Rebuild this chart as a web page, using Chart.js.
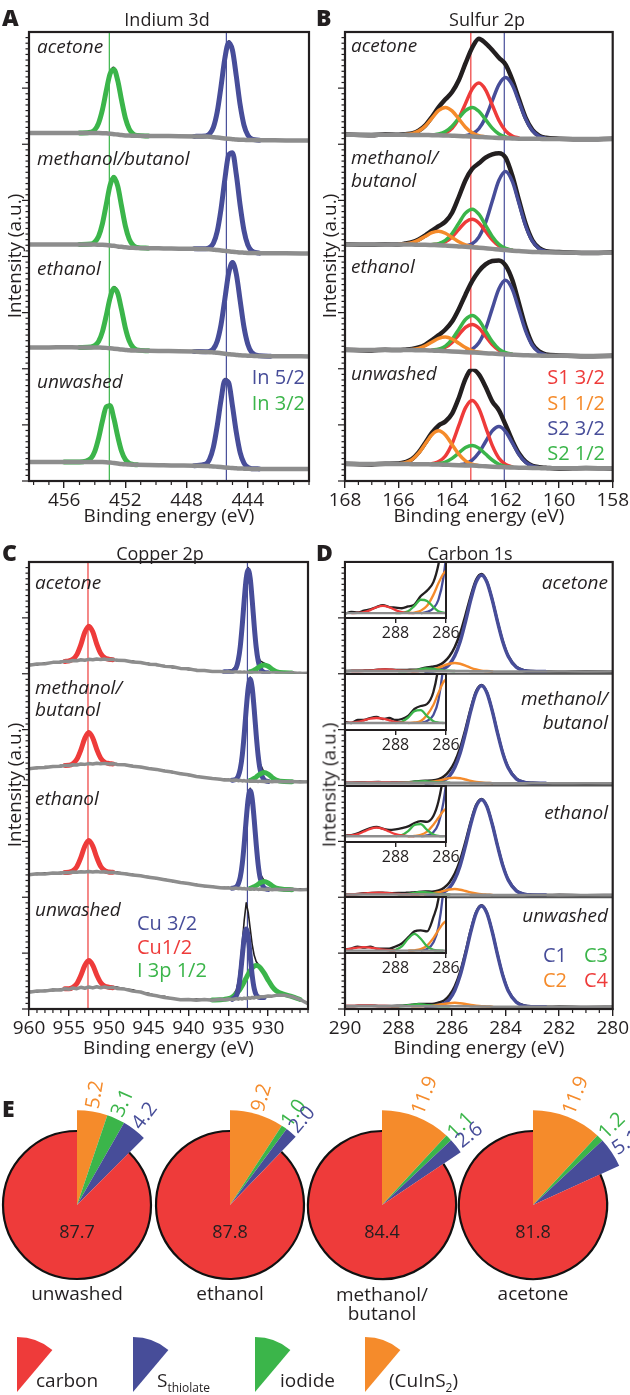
<!DOCTYPE html>
<html>
<head>
<meta charset="utf-8">
<script src="https://cdn.jsdelivr.net/npm/chart.js@4.4.1/dist/chart.umd.min.js"></script>
<style>
  body { margin: 0; background: #fff; }
  #fig { position: relative; width: 630px; height: 1395px; overflow: hidden; background: #fff;
         font-family: 'Open Sans', 'Noto Sans', sans-serif; color: #231f20; }
  #fig canvas { position: absolute; }
  .t { position: absolute; white-space: nowrap; line-height: 1; }
</style>
</head>
<body>
<div id="fig"></div>
<script>
// ---------- Indium 3d (panel A) ----------
const energyA = [458.3, 457, 456, 455, 454.25, 454, 453.75, 453.5, 453.25, 453, 452.75, 452.5, 452.25, 452, 451.75, 451.5, 451.25, 450.5, 449.5, 448.5, 447.5, 446.75, 446.5, 446.25, 446, 445.75, 445.5, 445.25, 445, 444.75, 444.5, 444.25, 444, 443.75, 443.25, 442.5, 441.5, 440];
const ticksA = [456, 452, 448, 444];

const inAceRaw = [10.3, 9.8, 10.4, 10.2, 11.0, 13.3, 19.5, 31.5, 48.5, 64.0, 68.3, 57.8, 40.0, 23.8, 14.4, 10.0, 8.6, 7.8, 7.6, 7.5, 7.6, 8.2, 10.4, 16.3, 30.0, 52.8, 78.0, 92.0, 85.0, 62.0, 36.5, 18.5, 9.6, 6.0, 4.4, 3.9, 3.2, 3.5];
const inAceBg = [10, 10, 10, 10, 10, 10, 10, 9.9, 9.7, 9.4, 9.0, 8.6, 8.2, 7.9, 7.7, 7.6, 7.5, 7.4, 7.3, 7.2, 7.0, 6.8, 6.6, 6.3, 6.0, 5.6, 5.2, 4.8, 4.5, 4.2, 4.0, 3.9, 3.8, 3.7, 3.6, 3.5, 3.4, 3.4];
const inAce32 = [10, 10.7, 12.9, 18.9, 30.8, 47.7, 62.8, 66.7, 56.7, 39.1, 23.2, 13.6, 9.3, 7.9, 7.4];
const inAce52 = [7.0, 7.4, 9.2, 15.0, 28.7, 51.4, 76.5, 90.4, 83.6, 60.6, 35.0, 17.1, 8.1, 4.7, 3.6];

const inMebRaw = [11.0, 10.4, 10.9, 10.5, 11.4, 13.5, 18.8, 30.0, 47.3, 64.8, 71.8, 63.5, 45.6, 27.8, 16.2, 10.8, 8.7, 7.9, 7.3, 7.5, 7.2, 7.6, 9.0, 13.0, 23.6, 43.6, 70.2, 91.0, 93.0, 74.3, 47.0, 24.5, 11.6, 6.2, 3.6, 3.2, 2.6, 3.0];
const inMebBg = [10.7, 10.7, 10.6, 10.7, 10.6, 10.6, 10.5, 10.4, 10.2, 9.9, 9.5, 9.0, 8.6, 8.2, 7.9, 7.7, 7.6, 7.4, 7.2, 7.0, 6.8, 6.6, 6.4, 6.1, 5.8, 5.4, 5.0, 4.6, 4.2, 3.9, 3.6, 3.4, 3.2, 3.1, 3.0, 2.9, 2.8, 2.7];
const inMeb32 = [10.7, 11.1, 13.0, 18.1, 29.3, 46.4, 63.5, 70.5, 62.6, 44.8, 27.1, 15.5, 10.1, 8.1, 7.4];
const inMeb52 = [6.8, 6.9, 7.9, 11.8, 22.3, 42.3, 68.8, 90.5, 92.5, 72.9, 45.6, 23.2, 10.3, 5.1, 3.0];

const inEthRaw = [19.3, 18.7, 19.4, 19.1, 19.8, 21.0, 25.0, 33.8, 48.2, 64.0, 73.0, 68.2, 53.2, 36.8, 25.5, 19.6, 17.2, 16.3, 16.0, 15.7, 15.8, 15.6, 16.2, 18.6, 25.3, 40.0, 63.0, 86.0, 95.8, 85.4, 61.6, 38.2, 22.8, 15.6, 12.0, 11.0, 11.4, 10.8];
const inEthBg = [19, 19, 19.1, 19, 19, 19, 18.9, 18.8, 18.6, 18.3, 17.9, 17.5, 17.1, 16.8, 16.5, 16.3, 16.2, 16.0, 15.8, 15.6, 15.3, 15.0, 14.8, 14.5, 14.2, 13.8, 13.4, 13.0, 12.6, 12.3, 12.0, 11.8, 11.6, 11.5, 11.3, 11.2, 11.1, 11.0];
const inEth32 = [19, 19.4, 20.6, 24.4, 33.1, 47.4, 63.1, 71.6, 67.2, 52.5, 36.2, 24.8, 19.0, 16.8, 16.0];
const inEth52 = [15.3, 15.2, 15.5, 17.7, 24.5, 39.2, 62.1, 85.0, 94.6, 84.3, 60.7, 37.2, 21.9, 14.7, 11.5, 11.2];

const inUnwRaw = [17.2, 16.6, 17.3, 17.5, 20.8, 26.8, 38.6, 54.2, 67.0, 68.2, 56.0, 40.2, 27.0, 19.6, 16.3, 15.2, 14.8, 14.6, 14.3, 14.1, 14.2, 15.8, 20.0, 30.8, 49.8, 73.0, 91.0, 88.5, 68.0, 44.5, 26.3, 16.8, 12.6, 11.4, 11.0, 10.4, 11.0, 10.6];
const inUnwBg = [16.9, 16.9, 17.0, 17.0, 17.0, 17.0, 17.0, 16.9, 16.7, 16.4, 16.0, 15.6, 15.2, 14.9, 14.7, 14.5, 14.4, 14.2, 14.0, 13.8, 13.6, 13.4, 13.2, 13.0, 12.7, 12.4, 12.1, 11.8, 11.5, 11.3, 11.1, 11.0, 10.9, 10.8, 10.8, 10.7, 10.7, 10.7];
const inUnw32 = [17.0, 17.0, 20.3, 26.4, 38.2, 53.5, 66.0, 67.0, 55.5, 39.7, 26.5, 19.0, 15.8, 14.8, 14.4];
const inUnw52 = [13.6, 15.1, 19.4, 30.1, 49.0, 72.1, 89.5, 87.5, 66.7, 43.3, 25.3, 15.9, 12.2, 11.0, 10.8];

// ---------- Sulfur 2p (panel B) ----------
const energyB = [168, 167, 166.5, 166, 165.75, 165.5, 165.25, 165, 164.75, 164.5, 164.25, 164, 163.75, 163.5, 163.25, 163, 162.75, 162.5, 162.25, 162, 161.75, 161.5, 161.25, 161, 160.75, 160.5, 160, 159, 158];
const ticksB = [168, 166, 164, 162, 160, 158];

const sAceRaw = [8.6, 8.0, 8.9, 8.5, 9.0, 9.6, 12.0, 16.8, 24.5, 33.0, 40.0, 46.5, 57.0, 72.0, 86.0, 94.0, 90.0, 84.0, 77.0, 71.0, 57.5, 40.0, 23.5, 12.8, 7.6, 5.8, 5.0, 4.4, 4.9];
const sAceBg = [8.4, 8.4, 8.4, 8.4, 8.4, 8.3, 8.3, 8.2, 8.1, 8.0, 7.8, 7.6, 7.4, 7.1, 6.8, 6.5, 6.2, 5.9, 5.6, 5.4, 5.2, 5.0, 4.9, 4.8, 4.8, 4.7, 4.7, 4.6, 4.6];
const sAceS1a = [8.5, 9.9, 14.1, 23.0, 36.2, 49.1, 54.5, 48.5, 35.0, 21.2, 11.9, 7.3, 5.5];
const sAceS1b = [8.7, 9.4, 11.7, 16.3, 23.3, 30.1, 32.8, 29.7, 22.6, 15.2, 10.2, 7.6, 6.5];
const sAceS2a = [7.7, 9.2, 13.8, 23.8, 38.7, 53.2, 59.4, 52.8, 37.8, 22.5, 12.1, 7.2, 5.3];
const sAceS2b = [8.4, 9.1, 11.3, 16.1, 23.2, 30.0, 32.8, 29.4, 22.0, 14.4, 9.1, 6.5, 5.5];

const sMebRaw = [10.9, 10.4, 11.0, 10.6, 11.6, 12.8, 15.2, 18.8, 23, 27, 31, 39, 53, 68, 78, 83, 88, 91, 92, 88, 72, 50, 29, 14.5, 7.5, 4.8, 3.9, 3.1, 3.6];
const sMebBg = [10.7, 10.7, 10.7, 10.7, 10.7, 10.6, 10.5, 10.4, 10.2, 10.0, 9.7, 9.4, 9.0, 8.6, 8.2, 7.8, 7.3, 6.8, 6.2, 5.7, 5.2, 4.8, 4.4, 4.1, 3.9, 3.7, 3.5, 3.4, 3.3];
const sMebS1a = [10.5, 11.1, 13.1, 17.5, 24.2, 30.7, 33.2, 29.9, 22.5, 14.9, 9.6, 6.8, 5.5];
const sMebS1b = [10.8, 11.3, 12.3, 14.6, 18.0, 21.2, 22.5, 20.7, 17.0, 13.1, 10.3, 8.8, 7.9];
const sMebS2a = [9.4, 11.3, 17.3, 30.1, 49.3, 67.9, 75.7, 66.9, 47.3, 27.2, 13.6, 7.0, 4.5];
const sMebS2b = [10.6, 11.5, 14.3, 20.5, 29.6, 38.6, 42.2, 37.8, 27.9, 17.9, 10.8, 7.2, 5.6];

const sEthRaw = [16.9, 16.3, 17.0, 16.6, 17.0, 17.6, 19.0, 21.5, 25.5, 30.0, 35.0, 42.0, 53.0, 66.0, 78.0, 87.0, 93.0, 96.0, 96.5, 92.0, 79.0, 58.0, 37.0, 22.0, 15.5, 12.8, 11.9, 11.2, 11.6];
const sEthBg = [16.7, 16.7, 16.7, 16.7, 16.7, 16.6, 16.5, 16.4, 16.2, 16.0, 15.7, 15.4, 15.1, 14.8, 14.5, 14.2, 13.8, 13.5, 13.1, 12.8, 12.5, 12.2, 12.0, 11.8, 11.7, 11.6, 11.5, 11.4, 11.4];
const sEthS1a = [16.5, 17.1, 19.1, 23.5, 30.3, 36.9, 39.5, 36.3, 29.0, 21.6, 16.5, 13.9, 12.8];
const sEthS1b = [16.8, 17.2, 18.2, 20.5, 23.8, 27.1, 28.3, 26.5, 22.7, 18.9, 16.2, 14.8, 13.9];
const sEthS2a = [15.5, 17.4, 23.1, 35.3, 53.6, 71.3, 78.8, 70.7, 52.3, 33.5, 20.7, 14.6, 12.3];
const sEthS2b = [16.6, 17.5, 20.2, 26.1, 35.1, 43.9, 47.5, 43.3, 33.8, 24.2, 17.6, 14.3, 12.9];

const sUnwRaw = [15.3, 14.8, 15.4, 15.6, 16.8, 19.5, 25.5, 34, 43, 49.5, 53, 60, 74, 91, 99.5, 95, 84, 71, 63, 50, 36, 24.5, 17.2, 13.6, 12.3, 11.8, 11.0, 11.6, 11.2];
const sUnwBg = [15.1, 15.1, 15.1, 15.1, 15.1, 15.0, 15.0, 14.9, 14.8, 14.7, 14.5, 14.3, 14.1, 13.9, 13.7, 13.4, 13.1, 12.8, 12.5, 12.2, 12.0, 11.8, 11.7, 11.6, 11.5, 11.4, 11.4, 11.3, 11.3];
const sUnwS1a = [15.4, 17.3, 22.3, 33.2, 49.3, 65.1, 71.7, 64.6, 48.3, 31.7, 20.3, 14.8, 12.6];
const sUnwS1b = [15.4, 16.4, 19.1, 24.8, 33.1, 41.3, 44.7, 41.0, 32.5, 23.9, 18.0, 15.0, 13.7];
const sUnwS2a = [14.5, 15.5, 18.6, 25.1, 35.0, 44.6, 48.5, 44.0, 33.9, 23.5, 16.6, 13.2, 11.9];
const sUnwS2b = [15.0, 15.5, 16.9, 20.2, 25.0, 29.8, 31.7, 29.3, 24.0, 18.7, 14.9, 13.0, 12.2];

// ---------- Copper 2p (panel C) ----------
const energyC = [960, 959, 958, 957, 956, 955.5, 955, 954.5, 954, 953.5, 953, 952.5, 952, 951.5, 951, 950.5, 950, 949.5, 949, 948, 947, 946, 945, 944, 943, 942, 941, 940, 939, 938, 937, 936, 935.5, 935, 934.5, 934, 933.75, 933.5, 933.25, 933, 932.75, 932.5, 932.25, 932, 931.75, 931.5, 931.25, 931, 930.5, 930, 929.5, 929, 928, 927, 926, 925];
const ticksC = [960, 955, 950, 945, 940, 935, 930];

const cuAceRaw = [8.3, 7.9, 9.8, 9.4, 11.2, 10.6, 12.0, 13.6, 17.8, 26.5, 38.0, 43.6, 38.3, 27.2, 18.9, 14.6, 13.6, 12.1, 12.8, 11.2, 11.3, 9.5, 9.3, 7.5, 7.3, 5.5, 5.4, 3.7, 3.8, 2.2, 2.7, 2.4, 2.6, 2.8, 3.6, 7.0, 13.5, 26.0, 45.5, 68.0, 87.5, 95.0, 87.0, 67.5, 45.5, 27.0, 16.0, 11.5, 9.5, 7.2, 4.5, 2.6, 1.4, 0.4, 1.0, 0.2];
const cuAceBg = [7.6, 8.8, 9.0, 10.2, 10.4, 11.3, 11.0, 11.9, 11.6, 12.5, 12.1, 12.9, 12.5, 13.2, 12.7, 13.1, 12.6, 12.9, 12.0, 11.9, 10.5, 10.1, 8.6, 8.2, 6.6, 6.2, 4.8, 4.4, 3.0, 2.9, 2.0, 2.1, 1.6, 1.9, 1.4, 1.7, 1.3, 1.6, 1.2, 1.5, 1.1, 1.4, 1.0, 1.3, 0.9, 1.2, 0.8, 1.1, 0.7, 1.0, 0.6, 0.9, 0.5, 0.8, 0.3, 0.5];
const cuAce12 = [11.0, 11.5, 12.9, 17.1, 25.9, 37.1, 42.6, 37.5, 26.6, 18.1, 14.2, 13.0, 12.6];
const cuAce32 = [1.8, 1.7, 2.0, 5.5, 12.0, 24.2, 43.4, 66.1, 85.4, 92.9, 85.3, 65.9, 43.1, 23.8, 11.5, 5.0, 1.3, 0.9];
const cuAceI3p = [1.8, 2.3, 3.2, 4.2, 5.5, 6.8, 7.9, 6.7, 4.0, 2.0, 0.8, 0.6];

const cuMebRaw = [15.6, 15.2, 16.9, 16.5, 18.0, 17.6, 18.8, 19.9, 24.0, 32.5, 43.0, 48.6, 43.3, 33.0, 25.2, 21.6, 20.1, 19.9, 19.6, 18.2, 17.8, 16.1, 15.8, 13.8, 13.5, 11.4, 11.1, 9.0, 8.7, 6.7, 6.7, 5.2, 5.7, 5.1, 5.6, 6.5, 9.5, 16.5, 29.0, 48.5, 71.0, 89.5, 97.0, 90.0, 71.5, 50.5, 31.5, 19.5, 11.5, 11.0, 8.2, 5.6, 3.8, 3.0, 4.0, 2.9];
const cuMebBg = [15.0, 15.9, 16.2, 17.1, 17.3, 18.0, 17.8, 18.6, 18.4, 19.2, 18.9, 19.6, 19.3, 19.9, 19.4, 19.8, 19.3, 19.5, 18.9, 18.5, 17.3, 16.6, 15.2, 14.4, 12.9, 12.0, 10.5, 9.6, 8.1, 7.2, 6.2, 5.6, 5.0, 5.2, 4.6, 4.9, 4.3, 4.6, 4.1, 4.4, 3.9, 4.2, 3.8, 4.1, 3.7, 4.0, 3.6, 3.9, 3.5, 3.8, 3.4, 3.7, 3.3, 3.6, 3.1, 3.4];
const cuMeb12 = [18.0, 18.1, 19.5, 23.4, 31.7, 42.2, 47.4, 42.5, 32.4, 24.4, 20.8, 19.7, 19.3];
const cuMeb32 = [4.7, 5.8, 8.4, 14.7, 26.9, 45.9, 68.4, 87.4, 95.0, 87.3, 68.2, 45.5, 26.5, 14.1, 5.0, 3.6];
const cuMebI3p = [4.7, 5.3, 6.3, 7.5, 9.0, 10.3, 11.6, 10.2, 7.2, 4.9, 3.5, 3.4];

const cuEthRaw = [20.8, 20.4, 21.8, 21.2, 22.4, 21.8, 22.9, 24.2, 27.8, 36.2, 46.5, 51.8, 46.6, 36.3, 28.4, 24.6, 23.2, 22.4, 22.6, 21.4, 20.6, 19.0, 18.5, 16.5, 16.4, 14.0, 13.9, 11.6, 11.6, 9.6, 9.8, 8.3, 8.9, 8.2, 8.8, 9.8, 12.8, 18.8, 30.8, 49.5, 71.5, 90.5, 97.5, 90.5, 72.0, 50.5, 32.0, 21.0, 14.8, 13.6, 11.2, 8.4, 7.6, 6.3, 7.5, 6.4];
const cuEthBg = [20.2, 21.0, 20.9, 21.6, 21.5, 22.2, 21.9, 22.6, 22.3, 22.9, 22.5, 23.0, 22.6, 23.1, 22.5, 22.8, 22.2, 22.4, 21.7, 21.1, 19.9, 19.2, 17.8, 17.0, 15.6, 14.6, 13.2, 12.3, 11.0, 10.1, 9.3, 8.6, 8.2, 8.5, 7.9, 8.2, 7.7, 8.0, 7.5, 7.8, 7.3, 7.7, 7.2, 7.6, 7.1, 7.5, 7.0, 7.4, 6.9, 7.3, 6.8, 7.2, 6.7, 7.1, 6.6, 7.0];
const cuEth12 = [22.1, 22.3, 23.6, 27.3, 35.4, 45.7, 50.8, 45.8, 35.6, 27.5, 23.8, 22.6, 22.3];
const cuEth32 = [8.1, 9.2, 11.9, 17.9, 29.7, 48.0, 69.8, 88.2, 95.4, 88.1, 69.5, 47.6, 29.1, 17.2, 8.3, 7.0];
const cuEthI3p = [8.0, 8.6, 9.4, 10.5, 11.7, 13.0, 14.1, 12.8, 10.2, 8.1, 7.0, 6.8];

const cuUnwRaw = [15.8, 15.3, 16.8, 16.4, 17.8, 17.5, 18.9, 20.1, 23.5, 30.8, 39.6, 44.2, 40.0, 31.2, 24.5, 21.2, 20.1, 19.7, 19.6, 18.0, 17.1, 15.0, 14.0, 11.7, 11.3, 9.2, 9.0, 8.1, 8.9, 8.2, 8.6, 8.5, 9.3, 9.6, 11.4, 16.8, 24.5, 39.5, 58.5, 79.5, 95.0, 86.5, 72.0, 57.5, 48.0, 42.5, 40.0, 38.0, 32.8, 26.6, 21.2, 16.8, 13.5, 11.6, 8.9, 5.2];
const cuUnwBg = [15.0, 16.1, 16.0, 17.2, 17.0, 18.1, 17.6, 18.8, 18.2, 19.4, 18.6, 19.7, 18.9, 19.9, 19.0, 19.8, 18.9, 19.4, 18.4, 17.8, 16.0, 15.2, 12.9, 11.8, 10.2, 9.4, 8.2, 8.6, 7.8, 8.4, 7.9, 8.7, 8.3, 9.0, 8.5, 9.3, 8.8, 9.5, 9.0, 9.7, 9.3, 10.0, 9.6, 10.3, 9.9, 10.6, 10.2, 10.9, 11.0, 11.6, 11.5, 12.2, 12.4, 11.0, 8.5, 4.7];
const cuUnw12 = [18.1, 18.1, 19.4, 22.7, 29.9, 38.9, 43.3, 39.2, 30.5, 23.6, 20.5, 19.5, 19.1];
const cuUnw32 = [8.7, 11.7, 17.5, 29.4, 46.9, 64.1, 71.5, 64.3, 47.3, 30.0, 18.3, 12.7, 10.8, 10.3, 10.4];
const cuUnwI3p = [8.0, 8.3, 8.6, 9.2, 10.6, 13.6, 15.6, 18.1, 21.0, 24.3, 27.8, 31.2, 34.3, 36.7, 38.4, 39.0, 38.6, 37.1, 32.1, 25.8, 20.2, 16.3, 13.0, 11.1, 8.5];

// ---------- Carbon 1s (panel D) ----------
const energyD = [290, 289.75, 289.5, 289.25, 289, 288.75, 288.5, 288.25, 288, 287.75, 287.5, 287.25, 287, 286.75, 286.5, 286.3, 286.1, 285.9, 285.7, 285.5, 285.3, 285.1, 284.9, 284.7, 284.5, 284.3, 284.1, 283.9, 283.6, 283.3, 283, 282.5, 282, 281, 280];
const ticksD = [290, 288, 286, 284, 282, 280];
const ticksInset = [288, 286];
const cBg = [2.5, 2.5, 2.5, 2.5, 2.5, 2.5, 2.5, 2.5, 2.5, 2.5, 2.5, 2.5, 2.5, 2.5, 2.5, 2.5, 2.5, 2.5, 2.4, 2.4, 2.3, 2.3, 2.2, 2.2, 2.1, 2.1, 2.0, 2.0, 2.0, 2.0, 2.0, 2.0, 2.0, 2.0, 2.0];

const cAceRaw = [2.4, 2.7, 2.6, 2.9, 3.1, 3.5, 3.8, 3.5, 3.4, 3.3, 3.6, 3.9, 5.3, 6.2, 7.6, 10.5, 15.6, 24, 36, 52.5, 70, 84.2, 89.2, 82.6, 66.4, 46.6, 28.8, 16.0, 6.3, 3.2, 2.4, 2.1, 1.9, 2.2, 1.9];
const cAceC1 = [2.5, 2.7, 3.3, 4.7, 8.4, 16.0, 28.6, 46.5, 66.3, 82.2, 88.2, 82.1, 66.1, 46.2, 28.2, 15.5, 5.8, 2.7, 2.0, 2.0];
const cAceC2 = [2.5, 2.6, 2.9, 3.7, 5.5, 7.4, 9.0, 9.7, 8.9, 7.3, 5.3, 3.8, 2.8, 2.4, 2.1];
const cAceC3 = [2.5, 2.54, 2.8, 3.7, 4.7, 4.5, 3.5, 2.8, 2.6, 2.5];
const cAceC4 = [2.5, 2.54, 2.67, 3.0, 3.47, 3.7, 3.47, 3.0, 2.67, 2.54, 2.5];

const cMebRaw = [2.6, 2.5, 2.8, 2.8, 3.0, 3.1, 2.9, 3.0, 2.8, 2.9, 3.2, 3.9, 4.2, 4.4, 5.6, 8.2, 13.2, 21.3, 33.6, 50.6, 69.3, 84.5, 90, 83.4, 67.1, 47.1, 29, 16.2, 6.3, 3.1, 2.4, 1.8, 2.1, 1.9, 2.1];
const cMebC1 = [2.5, 2.7, 3.3, 4.8, 8.5, 16.2, 28.9, 47.0, 67.0, 83.1, 89.2, 83.0, 66.8, 46.7, 28.5, 15.7, 5.8, 2.8, 2.1, 2.0];
const cMebC2 = [2.5, 2.55, 2.7, 3.3, 4.3, 5.5, 6.6, 7.0, 6.5, 5.4, 4.1, 3.2, 2.6, 2.3, 2.1];
const cMebC3 = [2.5, 2.63, 3.05, 3.69, 3.78, 3.18, 2.68, 2.54, 2.5];
const cMebC4 = [2.51, 2.54, 2.62, 2.77, 2.93, 3.0, 2.93, 2.77, 2.62, 2.54, 2.51];

const cEthRaw = [2.6, 2.7, 3.0, 3.5, 3.9, 4.1, 3.8, 3.6, 3.7, 3.9, 4.2, 4.8, 5.1, 5.0, 6.0, 8.5, 13.3, 21.2, 33.2, 49.8, 68, 82.7, 88, 81.6, 65.6, 46.1, 28.4, 15.8, 6.2, 3.0, 2.3, 2.0, 2.2, 1.9, 2.1];
const cEthC1 = [2.5, 2.65, 3.2, 4.7, 8.4, 15.8, 28.3, 46.0, 65.5, 81.3, 87.2, 81.2, 65.3, 45.7, 27.9, 15.3, 5.7, 2.7, 2.1, 2.0];
const cEthC2 = [2.5, 2.55, 2.74, 3.3, 4.5, 5.7, 6.9, 7.3, 6.8, 5.6, 4.3, 3.3, 2.6, 2.3, 2.1];
const cEthC3 = [2.52, 2.71, 3.4, 4.44, 4.58, 3.61, 2.8, 2.56, 2.5];
const cEthC4 = [2.53, 2.63, 2.87, 3.31, 3.79, 4.0, 3.79, 3.31, 2.87, 2.63, 2.53, 2.5];

const cUnwRaw = [2.6, 2.7, 2.9, 2.8, 2.9, 2.7, 2.7, 2.7, 2.9, 3.2, 3.8, 4.4, 4.5, 4.4, 5.8, 7.6, 12.2, 20.3, 33.2, 51.1, 71, 86.9, 92.9, 86.2, 69.4, 48.7, 30, 16.6, 6.5, 3.1, 2.3, 2.0, 2.2, 1.9, 2.0];
const cUnwC1 = [2.5, 2.66, 3.3, 4.8, 8.7, 16.6, 29.9, 48.6, 69.3, 85.9, 92.2, 85.8, 69.1, 48.3, 29.5, 16.1, 6.0, 2.8, 2.1, 2.0];
const cUnwC2 = [2.5, 2.53, 2.65, 3.0, 3.73, 4.52, 5.22, 5.5, 5.12, 4.42, 3.53, 2.92, 2.46, 2.3, 2.1];
const cUnwC3 = [2.5, 2.57, 2.91, 3.67, 4.15, 3.67, 2.91, 2.57, 2.51, 2.5];
const cUnwC4 = [2.59, 2.69, 2.8, 2.85, 2.8, 2.69, 2.59, 2.53, 2.5];

// ---------- Composition pies (panel E), order: CuInS2, iodide, S thiolate, carbon ----------
const pieParts = ['(CuInS2)', 'iodide', 'S thiolate', 'carbon'];
const pieNames = ['unwashed', 'ethanol', 'methanol/<br>butanol', 'acetone'];
const pieUnwashed = [5.2, 3.1, 4.2, 87.7];
const pieEthanol = [9.2, 1.0, 2.0, 87.8];
const pieMethanol = [11.9, 1.1, 2.6, 84.4];
const pieAcetone = [11.9, 1.2, 5.1, 81.8];

// ---------------------------------------------------------------
const INK = '#231f20', GRAY = '#8d8d8d', RED = '#ee3b3a', ORANGE = '#f58b2b', GREEN = '#3bb54a', BLUE = '#474d99';
const FONT = "'Open Sans', 'Noto Sans', sans-serif";
Chart.defaults.font.family = FONT;
Chart.defaults.color = INK;

const fig = document.getElementById('fig');

function addCanvas(left, top, w, h) {
  const c = document.createElement('canvas');
  c.width = w; c.height = h;
  c.style.left = left + 'px'; c.style.top = top + 'px';
  c.style.width = w + 'px'; c.style.height = h + 'px';
  fig.appendChild(c);
  return c;
}

function label(html, x, y, o = {}) {
  const d = document.createElement('div');
  d.className = 't';
  d.innerHTML = html;
  d.style.left = x + 'px'; d.style.top = y + 'px';
  d.style.fontSize = (o.size || 19) + 'px';
  if (o.color) d.style.color = o.color;
  if (o.italic) d.style.fontStyle = 'italic';
  if (o.bold) d.style.fontWeight = '800';
  if (o.align === 'center') d.style.textAlign = 'center';
  const ax = o.align === 'center' ? '-50%' : o.align === 'right' ? '-100%' : '0';
  d.style.transform = 'translate(' + ax + ', -50%)' + (o.rotate ? ' rotate(' + o.rotate + 'deg)' : '');
  fig.appendChild(d);
}

function win(energy, start, values) {
  return values.map((y, i) => ({ x: energy[start + i], y }));
}

// frame, ticks, reference lines, separators
const framePlugin = {
  id: 'frame',
  beforeDatasetsDraw(chart, args, o) {
    const { ctx, chartArea: a, scales } = chart;
    ctx.save();
    (o.vlines || []).forEach(v => {
      const x = scales.x.getPixelForValue(v.x);
      ctx.strokeStyle = v.color; ctx.lineWidth = 1.2;
      ctx.beginPath(); ctx.moveTo(x, a.top); ctx.lineTo(x, a.bottom); ctx.stroke();
    });
    ctx.restore();
  },
  afterDatasetsDraw(chart, args, o) {
    const { ctx, chartArea: a, scales } = chart;
    const seg = (x1, y1, x2, y2) => { ctx.beginPath(); ctx.moveTo(x1, y1); ctx.lineTo(x2, y2); ctx.stroke(); };
    ctx.save();
    ctx.strokeStyle = INK;
    if (o.separators) {
      ctx.lineWidth = 1.8; ctx.strokeStyle = '#555';
      for (let k = 0; k < o.n - 1; k++) { const y = scales['y' + k].bottom; seg(a.left, y, a.right, y); }
      ctx.strokeStyle = INK;
    }
    ctx.lineWidth = 1.2;
    for (let k = 0; k < o.n; k++) {
      const s = scales['y' + k];
      for (let v = 0; v < 100; v += 5) {
        const y = s.getPixelForValue(v);
        seg(a.left - (v % 50 === 0 ? 7 : 3.5), y, a.left, y);
      }
    }
    if (o.minor) {
      const xs = scales.x;
      for (let v = Math.ceil(xs.min / o.minor) * o.minor; v <= xs.max + 1e-9; v += o.minor) {
        if (o.major.some(m => Math.abs(m - v) < 1e-6)) continue;
        const x = xs.getPixelForValue(v);
        seg(x, a.bottom, x, a.bottom + 4);
      }
    }
    ctx.lineWidth = 2.2;
    ctx.strokeRect(a.left, a.top, a.right - a.left, a.bottom - a.top);
    ctx.restore();
  }
};

function xAxis(min, max, ticks, height, size, title) {
  return {
    type: 'linear', reverse: true, min, max,
    afterFit: s => { s.height = height; },
    afterBuildTicks: s => { s.ticks = ticks.map(v => ({ value: v })); },
    ticks: { font: { size }, color: INK, padding: 1, maxRotation: 0, autoSkip: false },
    grid: { display: true, drawOnChartArea: false, drawTicks: true, tickLength: 7, color: INK, lineWidth: 1.4 },
    border: { display: true, color: INK, width: 2 },
    title: { display: !!title, text: title || '', font: { size: 19 }, color: INK, padding: { top: 0, bottom: 2 } }
  };
}

function spectrumChart(canvas, p) {
  const datasets = [];
  const scales = { x: xAxis(p.min, p.max, p.ticks, p.axisH, 19, 'Binding energy (eV)') };
  p.sections.forEach((s, k) => {
    const yID = 'y' + k;
    const line = (data, color, width, order, jag) => datasets.push({
      data, borderColor: color, borderWidth: width, order, yAxisID: yID,
      pointRadius: 0, fill: false, tension: 0,
      cubicInterpolationMode: jag ? 'default' : 'monotone',
      borderJoinStyle: 'round', borderCapStyle: 'round'
    });
    line(win(p.energy, 0, s.raw), INK, p.w.raw, 3, p.jagged);
    s.fits.forEach(f => line(win(p.energy, f[1], f[0]), f[2], f[3] || p.w.fit, 2, false));
    line(win(p.energy, 0, s.bg), GRAY, p.w.bg, 1, p.jagged);
    scales[yID] = {
      type: 'linear', position: 'right', stack: 'spec', stackWeight: 1, min: 0, max: 100,
      afterFit: sc => { sc.width = 0; },
      ticks: { display: false }, grid: { display: false }, border: { display: false }
    };
  });
  return new Chart(canvas, {
    type: 'line',
    data: { datasets },
    options: {
      responsive: false, animation: false, events: [],
      layout: { padding: Object.assign({ left: 0, right: 0, top: 0, bottom: 0 }, p.pad) },
      scales,
      plugins: {
        legend: { display: false }, tooltip: { enabled: false },
        frame: { vlines: p.vlines, n: p.sections.length, minor: p.minor, major: p.ticks, separators: p.separators }
      }
    },
    plugins: [framePlugin]
  });
}

// ---------- panel A ----------
spectrumChart(addCanvas(0, 0, 315, 530), {
  energy: energyA, min: 440, max: 458.3, ticks: ticksA, minor: 1,
  pad: { left: 29, right: 6, top: 32 }, axisH: 49,
  w: { raw: 2, fit: 5, bg: 4.5 },
  vlines: [{ x: 453.05, color: GREEN }, { x: 445.4, color: BLUE }],
  sections: [
    { raw: inAceRaw, bg: inAceBg, fits: [[inAce32, 3, GREEN], [inAce52, 20, BLUE]] },
    { raw: inMebRaw, bg: inMebBg, fits: [[inMeb32, 3, GREEN], [inMeb52, 20, BLUE]] },
    { raw: inEthRaw, bg: inEthBg, fits: [[inEth32, 3, GREEN], [inEth52, 20, BLUE]] },
    { raw: inUnwRaw, bg: inUnwBg, fits: [[inUnw32, 2, GREEN], [inUnw52, 20, BLUE]] }
  ]
});

// ---------- panel B ----------
spectrumChart(addCanvas(315, 0, 315, 530), {
  energy: energyB, min: 158, max: 168, ticks: ticksB, minor: 0.5,
  pad: { left: 30, right: 13, top: 32 }, axisH: 49,
  w: { raw: 4.5, fit: 3.5, bg: 4.5 },
  vlines: [{ x: 163.3, color: RED }, { x: 162.05, color: BLUE }],
  sections: [
    { raw: sAceRaw, bg: sAceBg, fits: [[sAceS1b, 4, ORANGE], [sAceS2b, 8, GREEN], [sAceS1a, 9, RED], [sAceS2a, 13, BLUE]] },
    { raw: sMebRaw, bg: sMebBg, fits: [[sMebS1b, 3, ORANGE], [sMebS2b, 8, GREEN], [sMebS1a, 8, RED], [sMebS2a, 13, BLUE]] },
    { raw: sEthRaw, bg: sEthBg, fits: [[sEthS1b, 4, ORANGE], [sEthS2b, 8, GREEN], [sEthS1a, 8, RED], [sEthS2a, 13, BLUE]] },
    { raw: sUnwRaw, bg: sUnwBg, fits: [[sUnwS1b, 3, ORANGE], [sUnwS2b, 8, GREEN], [sUnwS1a, 8, RED], [sUnwS2a, 12, BLUE]] }
  ]
});

// ---------- panel C ----------
spectrumChart(addCanvas(0, 530, 315, 532), {
  energy: energyC, min: 925, max: 960, ticks: ticksC, minor: 1,
  pad: { left: 29, right: 7, top: 32 }, axisH: 53,
  w: { raw: 1.6, fit: 5, bg: 3.5 }, jagged: true,
  vlines: [{ x: 952.6, color: RED }, { x: 932.6, color: BLUE }],
  sections: [
    { raw: cuAceRaw, bg: cuAceBg, fits: [[cuAce12, 5, RED], [cuAceI3p, 42, GREEN], [cuAce32, 32, BLUE]] },
    { raw: cuMebRaw, bg: cuMebBg, fits: [[cuMeb12, 5, RED], [cuMebI3p, 42, GREEN], [cuMeb32, 34, BLUE]] },
    { raw: cuEthRaw, bg: cuEthBg, fits: [[cuEth12, 5, RED], [cuEthI3p, 42, GREEN], [cuEth32, 34, BLUE]] },
    { raw: cuUnwRaw, bg: cuUnwBg, fits: [[cuUnw12, 5, RED], [cuUnw32, 34, BLUE], [cuUnwI3p, 30, GREEN]] }
  ]
});

// ---------- panel D ----------
const carbonSets = [
  { raw: cAceRaw, bg: cBg, c1: cAceC1, c2: cAceC2, c3: [cAceC3, 8], c4: [cAceC4, 1], yr: [1.7, 10.9] },
  { raw: cMebRaw, bg: cBg, c1: cMebC1, c2: cMebC2, c3: [cMebC3, 8], c4: [cMebC4, 0], yr: [1.8, 7.4] },
  { raw: cEthRaw, bg: cBg, c1: cEthC1, c2: cEthC2, c3: [cEthC3, 8], c4: [cEthC4, 0], yr: [1.5, 11.2] },
  { raw: cUnwRaw, bg: cBg, c1: cUnwC1, c2: cUnwC2, c3: [cUnwC3, 7], c4: [cUnwC4, 0], yr: [2.26, 7.8] }
];
spectrumChart(addCanvas(315, 530, 315, 532), {
  energy: energyD, min: 280, max: 290, ticks: ticksD, minor: 0.5,
  pad: { left: 30, right: 13, top: 32 }, axisH: 53,
  w: { raw: 2.5, fit: 2.5, bg: 2.5 }, separators: true,
  vlines: [],
  sections: carbonSets.map(s => ({
    raw: s.raw, bg: s.bg,
    fits: [[s.c4[0], s.c4[1], RED], [s.c3[0], s.c3[1], GREEN], [s.c2, 10, ORANGE], [s.c1, 12, BLUE, 3.5]]
  }))
});

// insets (zoom on 290-286 eV of each carbon spectrum)
const insetPlugin = {
  id: 'insetFrame',
  beforeDatasetsDraw(chart) {
    const { ctx, chartArea: a } = chart;
    ctx.save(); ctx.fillStyle = '#fff'; ctx.fillRect(a.left, a.top, a.right - a.left, a.bottom - a.top); ctx.restore();
  },
  afterDatasetsDraw(chart) {
    const { ctx, chartArea: a } = chart;
    ctx.save(); ctx.strokeStyle = INK; ctx.lineWidth = 2;
    ctx.strokeRect(a.left, a.top, a.right - a.left, a.bottom - a.top); ctx.restore();
  }
};
carbonSets.forEach((s, k) => {
  const top = 562 + k * 111.75;
  const line = (data, color, order) => ({
    data, borderColor: color, borderWidth: 2.3, order, pointRadius: 0, fill: false,
    cubicInterpolationMode: 'monotone', borderJoinStyle: 'round'
  });
  new Chart(addCanvas(335, top - 1, 140, 92), {
    type: 'line',
    data: {
      datasets: [
        line(win(energyD, 0, s.raw), INK, 3),
        line(win(energyD, s.c4[1], s.c4[0]), RED, 2),
        line(win(energyD, s.c3[1], s.c3[0]), GREEN, 2),
        line(win(energyD, 10, s.c2), ORANGE, 2),
        line(win(energyD, 12, s.c1), BLUE, 2),
        line(win(energyD, 0, s.bg), GRAY, 1)
      ]
    },
    options: {
      responsive: false, animation: false, events: [],
      layout: { padding: { left: 10, right: 29, top: 1, bottom: 0 } },
      scales: {
        x: Object.assign(xAxis(286, 290, ticksInset, 35, 16, ''), { grid: { display: true, drawOnChartArea: false, tickLength: 5, color: INK, lineWidth: 1.4 } }),
        y: { min: s.yr[0], max: s.yr[1], display: false }
      },
      plugins: { legend: { display: false }, tooltip: { enabled: false } }
    },
    plugins: [insetPlugin]
  });
});

// ---------- panel E: pies ----------
const pieColors = [ORANGE, GREEN, BLUE, RED];
const rosePlugin = {
  id: 'rose',
  beforeDatasetsDraw(chart) {
    const meta = chart.getDatasetMeta(0);
    const r = meta.controller.outerRadius;
    meta.data.forEach((arc, i) => { arc.outerRadius = i < 3 ? r * 1.28 : r; });
  },
  afterDatasetsDraw(chart) {
    const meta = chart.getDatasetMeta(0), ctx = chart.ctx;
    const vals = chart.data.datasets[0].data;
    const r = meta.controller.outerRadius;
    const c = meta.data[3];
    ctx.save();
    ctx.beginPath(); ctx.arc(c.x, c.y, r, c.startAngle, c.endAngle);
    ctx.lineWidth = 2.2; ctx.strokeStyle = '#111'; ctx.stroke();
    ctx.font = '20px ' + FONT; ctx.textAlign = 'left'; ctx.textBaseline = 'middle';
    for (let i = 0; i < 3; i++) {
      const arc = meta.data[i];
      ctx.save();
      ctx.translate(arc.x, arc.y);
      ctx.rotate((arc.startAngle + arc.endAngle) / 2);
      ctx.fillStyle = pieColors[i];
      ctx.fillText(vals[i].toFixed(1), r * 1.28 + 3, 0);
      ctx.restore();
    }
    ctx.font = '18px ' + FONT; ctx.textAlign = 'center'; ctx.fillStyle = INK;
    ctx.fillText(vals[3].toFixed(1), c.x, c.y + 28);
    ctx.restore();
  }
};
const pieCenters = [77, 230, 382, 533];
[pieUnwashed, pieEthanol, pieMethanol, pieAcetone].forEach((vals, k) => {
  new Chart(addCanvas(pieCenters[k] - 120, 1055, 240, 250), {
    type: 'pie',
    data: { labels: pieParts, datasets: [{ data: vals, backgroundColor: pieColors, borderWidth: 0 }] },
    options: {
      responsive: false, animation: false, events: [],
      layout: { padding: { top: 76, bottom: 26, left: 46, right: 46 } },
      plugins: { legend: { display: false }, tooltip: { enabled: false } }
    },
    plugins: [rosePlugin]
  });
  label(pieNames[k], pieCenters[k], pieNames[k].includes('<br>') ? 1304 : 1293, { align: 'center', size: 19 });
});

// legend wedges
const svgNS = 'http://www.w3.org/2000/svg';
const svg = document.createElementNS(svgNS, 'svg');
svg.setAttribute('width', '630'); svg.setAttribute('height', '70');
svg.style.position = 'absolute'; svg.style.left = '0'; svg.style.top = '1326px';
[[17, RED], [133, BLUE], [255, GREEN], [365, ORANGE]].forEach(([x, col]) => {
  const R = 55, y = 66;
  const p = document.createElementNS(svgNS, 'path');
  p.setAttribute('d', `M${x},${y} L${x},${y - R} A${R},${R} 0 0 1 ${(x + R * 0.643).toFixed(1)},${(y - R * 0.766).toFixed(1)} Z`);
  p.setAttribute('fill', col);
  svg.appendChild(p);
});
fig.appendChild(svg);
const sub = t => '<span style="font-size:12px;position:relative;top:5px">' + t + '</span>';
label('carbon', 36, 1380);
label('S' + sub('thiolate'), 157, 1380);
label('iodide', 280, 1380);
label('(CuInS' + sub('2') + ')', 389, 1380);

// ---------- titles, letters, labels ----------
label('A', 2, 17, { bold: true, size: 23 });
label('B', 316, 17, { bold: true, size: 23 });
label('C', 2, 552, { bold: true, size: 23 });
label('D', 316, 552, { bold: true, size: 23 });
label('E', 2, 1108, { bold: true, size: 23 });
label('Indium 3d', 167, 19, { align: 'center', size: 18 });
label('Sulfur 2p', 487, 19, { align: 'center', size: 18 });
label('Copper 2p', 160, 553, { align: 'center', size: 18 });
label('Carbon 1s', 470, 553, { align: 'center', size: 18 });
[[14, 256], [329, 256], [14, 785], [329, 785]].forEach(([x, y]) => label('Intensity (a.u.)', x, y, { rotate: -90, size: 19, align: 'center' }));

// A
label('acetone', 37, 46, { italic: true });
label('methanol/butanol', 37, 158, { italic: true });
label('ethanol', 37, 268, { italic: true });
label('unwashed', 37, 381, { italic: true });
label('In 5/2', 305, 377, { align: 'right', color: BLUE, size: 20 });
label('In 3/2', 305, 403, { align: 'right', color: GREEN, size: 20 });
// B
label('acetone', 351, 45, { italic: true });
label('methanol/', 351, 157, { italic: true });
label('butanol', 351, 180, { italic: true });
label('ethanol', 351, 266, { italic: true });
label('unwashed', 351, 373, { italic: true });
label('S1 3/2', 605, 377, { align: 'right', color: RED, size: 20 });
label('S1 1/2', 605, 403, { align: 'right', color: ORANGE, size: 20 });
label('S2 3/2', 605, 428, { align: 'right', color: BLUE, size: 20 });
label('S2 1/2', 605, 453, { align: 'right', color: GREEN, size: 20 });
// C
label('acetone', 35, 582, { italic: true });
label('methanol/', 35, 687, { italic: true });
label('butanol', 35, 709, { italic: true });
label('ethanol', 35, 798, { italic: true });
label('unwashed', 35, 909, { italic: true });
label('Cu 3/2', 137, 923, { color: BLUE, size: 20 });
label('Cu1/2', 137, 947, { color: RED, size: 20 });
label('I 3p 1/2', 137, 970, { color: GREEN, size: 20 });
// D
label('acetone', 608, 582, { italic: true, align: 'right' });
label('methanol/', 608, 698, { italic: true, align: 'right' });
label('butanol', 608, 722, { italic: true, align: 'right' });
label('ethanol', 608, 812, { italic: true, align: 'right' });
label('unwashed', 608, 915, { italic: true, align: 'right' });
label('C1', 543, 955, { color: BLUE, size: 20 });
label('C3', 584, 955, { color: GREEN, size: 20 });
label('C2', 543, 980, { color: ORANGE, size: 20 });
label('C4', 584, 980, { color: RED, size: 20 });
</script>
</body>
</html>
